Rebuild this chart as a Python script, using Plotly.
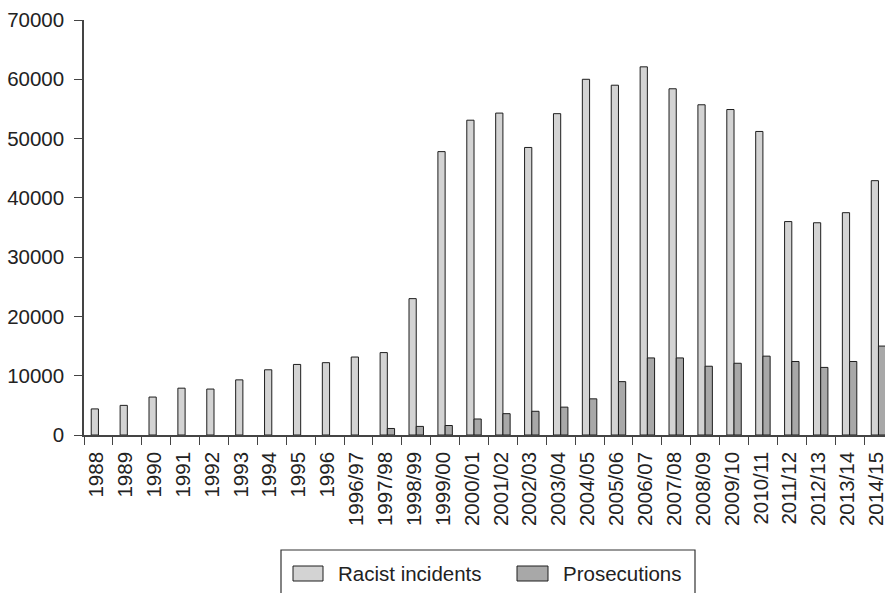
import plotly.graph_objects as go

categories = ["1988", "1989", "1990", "1991", "1992", "1993", "1994", "1995", "1996",
              "1996/97", "1997/98", "1998/99", "1999/00", "2000/01", "2001/02", "2002/03",
              "2003/04", "2004/05", "2005/06", "2006/07", "2007/08", "2008/09", "2009/10",
              "2010/11", "2011/12", "2012/13", "2013/14", "2014/15"]

racist_incidents = [4400, 5000, 6400, 7900, 7750, 9300, 11000, 11900, 12200,
                    13150, 13900, 23000, 47800, 53100, 54300, 48500,
                    54200, 60000, 59000, 62100, 58400, 55700, 54900,
                    51200, 36000, 35800, 37500, 42900]

prosecutions = [None, None, None, None, None, None, None, None, None,
                None, 1100, 1450, 1600, 2700, 3600, 4000,
                4700, 6100, 9000, 13000, 13000, 11600, 12100,
                13300, 12400, 11400, 12400, 15000]

y_ticks = [0, 10000, 20000, 30000, 40000, 50000, 60000, 70000]

W, H = 885, 593
ML, MR, MT, MB = 84, 0, 20, 158
FONT = "Liberation Sans, Arial, Helvetica, sans-serif"
FS = 20.5
LIGHT = "#d3d3d3"
DARK = "#a8a8a8"
EDGE = "#1e1e1e"

fig = go.Figure()
fig.add_trace(go.Bar(x=categories, y=racist_incidents, name="Racist incidents",
                     marker=dict(color=LIGHT, line=dict(color=EDGE, width=1)),
                     showlegend=False))
fig.add_trace(go.Bar(x=categories, y=prosecutions, name="Prosecutions",
                     marker=dict(color=DARK, line=dict(color=EDGE, width=1)),
                     showlegend=False))

pw = W - ML - MR
ph = H - MT - MB


def px(xs):
    return (xs - ML) / pw


def py(ys):
    return (H - MB - ys) / ph


shapes = [
    dict(type="rect", xref="paper", yref="paper", x0=px(281), x1=px(695),
         y0=py(550), y1=py(610), line=dict(color="#333", width=1.2), fillcolor="rgba(0,0,0,0)"),
    dict(type="rect", xref="paper", yref="paper", x0=px(293), x1=px(323),
         y0=py(566), y1=py(581), line=dict(color=EDGE, width=1), fillcolor=LIGHT),
    dict(type="rect", xref="paper", yref="paper", x0=px(517), x1=px(548),
         y0=py(566), y1=py(581), line=dict(color=EDGE, width=1), fillcolor=DARK),
]
annotations = [
    dict(text="Racist incidents", xref="paper", yref="paper", x=px(336), y=py(573),
         xanchor="left", yanchor="middle", showarrow=False,
         font=dict(family=FONT, size=FS, color="#222")),
    dict(text="Prosecutions", xref="paper", yref="paper", x=px(561), y=py(573),
         xanchor="left", yanchor="middle", showarrow=False,
         font=dict(family=FONT, size=FS, color="#222")),
]

cat_w = 28.89
x_end = -0.5 + pw / cat_w

fig.update_layout(
    width=W, height=H,
    margin=dict(l=ML, r=MR, t=MT, b=MB, autoexpand=False),
    paper_bgcolor="white", plot_bgcolor="white",
    barmode="group", bargap=0.5, bargroupgap=0,
    font=dict(family=FONT, size=FS, color="#222"),
    shapes=shapes, annotations=annotations,
    showlegend=False,
)
fig.update_xaxes(
    type="category", range=[-0.5, x_end],
    showline=True, linecolor="#444", linewidth=1.5,
    ticks="outside", ticklen=8, tickcolor="#444", tickwidth=1.2,
    tickson="boundaries", tickangle=-90,
    showgrid=False, zeroline=False,
    tickfont=dict(family=FONT, size=FS, color="#222"),
    ticklabelstandoff=7, ticklabelshift=-2,
)
fig.update_yaxes(
    range=[0, 70000], tickvals=y_ticks, ticktext=[str(v) for v in y_ticks],
    showline=True, linecolor="#444", linewidth=1.5,
    ticks="outside", ticklen=8, tickcolor="#444", tickwidth=1.2,
    showgrid=False, zeroline=False,
    tickfont=dict(family=FONT, size=FS, color="#222"),
    ticklabelstandoff=6,
)

fig.write_html("out.html",
               config={"displayModeBar": False},
               post_script="document.body.style.margin='0';document.body.style.overflow='hidden';")
